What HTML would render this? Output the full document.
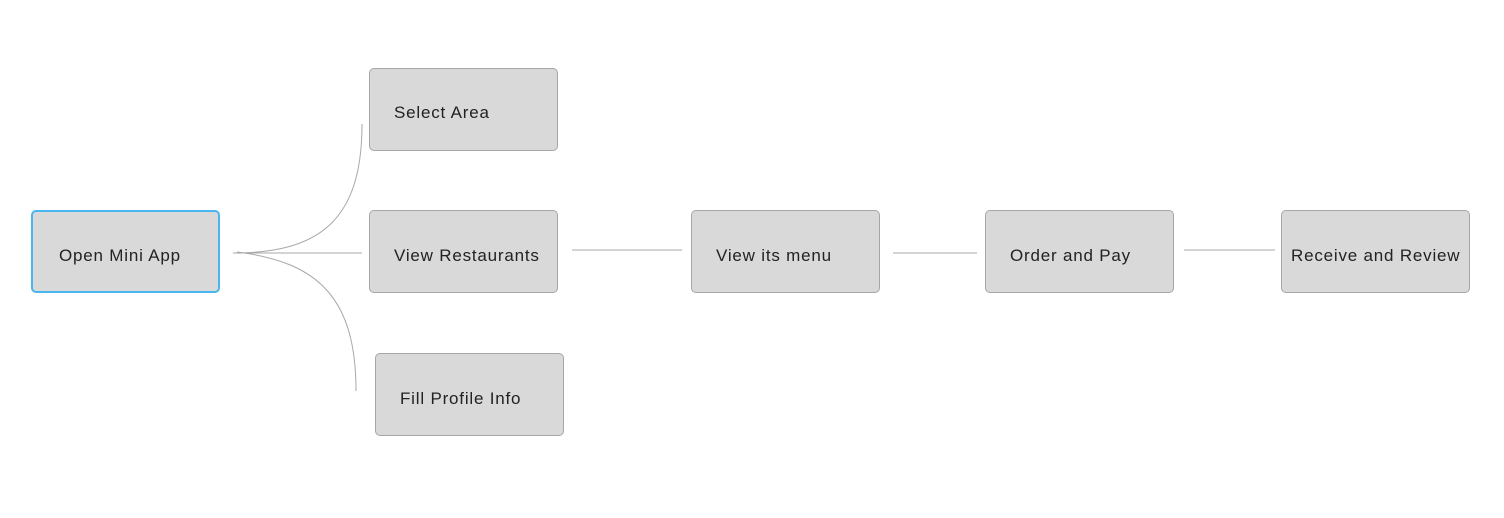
<!DOCTYPE html>
<html><head><style>
body{margin:0;width:1504px;height:518px;background:#fff;position:relative;overflow:hidden;font-family:"Liberation Sans",sans-serif;}
.b{position:absolute;box-sizing:border-box;width:189px;height:83px;background:#d9d9d9;border:1px solid #a6a6a6;border-radius:5px;font-size:17px;color:#222;letter-spacing:0.8px;line-height:89px;white-space:nowrap;overflow:hidden;}
svg{position:absolute;left:0;top:0;}
</style></head><body>
<svg width="1504" height="518">
<g fill="none" stroke="#a8a8a8" stroke-width="1">
<path d="M233 253 C320 253 362 220 362 124"/>
<path d="M233 253 L362 253"/>
<path d="M237 252 C320 262 356 300 356 391"/>
<path d="M572 250 L682 250"/>
<path d="M893 253 L977 253"/>
<path d="M1184 250 L1275 250"/>
</g></svg>
<div class="b" style="left:31px;top:210px;border:2px solid #4bb5ee;line-height:87px;padding-left:26px">Open Mini App</div>
<div class="b" style="left:369px;top:68px;padding-left:24px;line-height:88px">Select Area</div>
<div class="b" style="left:369px;top:210px;padding-left:24px">View Restaurants</div>
<div class="b" style="left:375px;top:353px;padding-left:24px">Fill Profile Info</div>
<div class="b" style="left:691px;top:210px;padding-left:24px">View its menu</div>
<div class="b" style="left:985px;top:210px;padding-left:24px">Order and Pay</div>
<div class="b" style="left:1281px;top:210px;padding-left:9px">Receive and Review</div>
</body></html>
